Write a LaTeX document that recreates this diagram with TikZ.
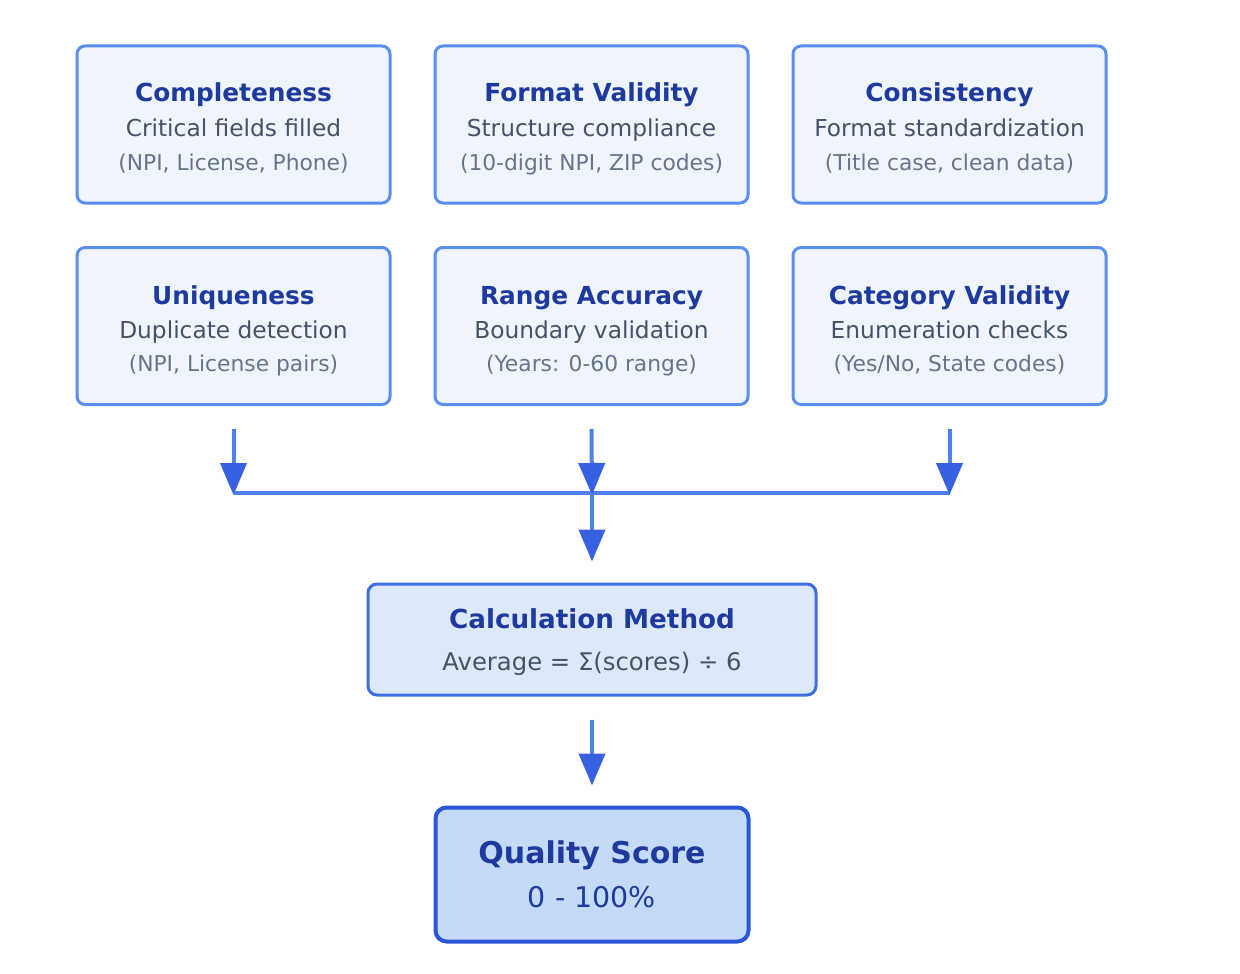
\documentclass[tikz,border=0pt]{standalone}
\usepackage{fontspec}
\setmainfont{DejaVu Sans}
\usetikzlibrary{arrows.meta}
\definecolor{cardfill}{HTML}{EFF4FD}
\definecolor{cardline}{HTML}{5A8EEF}
\definecolor{calcfill}{HTML}{DDE8FB}
\definecolor{calcline}{HTML}{3D6FE3}
\definecolor{qfill}{HTML}{C4DAF7}
\definecolor{qline}{HTML}{2B56D6}
\definecolor{titleblue}{HTML}{1E3A9E}
\definecolor{subgray}{HTML}{465366}
\definecolor{notegray}{HTML}{67758A}
\definecolor{arrline}{HTML}{4D82EE}
\definecolor{arrhead}{HTML}{3860E2}
\tikzset{
  card/.style={draw=cardline, fill=cardfill, line width=3pt, rounded corners=8pt,
    minimum width=313pt, minimum height=157pt, inner sep=0pt},
  calcbox/.style={draw=calcline, fill=calcfill, line width=3pt, rounded corners=9pt,
    minimum width=448pt, minimum height=111pt, inner sep=0pt},
  qbox/.style={draw=qline, fill=qfill, line width=4pt, rounded corners=11pt,
    minimum width=313pt, minimum height=134pt, inner sep=0pt},
  txt/.style={inner sep=0pt, anchor=base},
  ctitle/.style={txt, text=titleblue, font=\fontsize{24.8}{29}\selectfont\bfseries},
  csub/.style={txt, text=subgray, font=\fontsize{23.3}{28}\selectfont},
  cnote/.style={txt, text=notegray, font=\fontsize{21.8}{25}\selectfont},
  arr/.style={draw=arrline, line width=4pt, -{Triangle[width=26pt,length=32pt,color=arrhead]}},
  link/.style={draw=arrline, line width=4pt}
}
\begin{document}
\begin{tikzpicture}[x=1pt,y=-1pt]
\useasboundingbox (0,0) rectangle (1240,974);
% cards row 1
\node[card] (b1) at (233.5,124.5) {};
\node[card] (b2) at (591.5,124.5) {};
\node[card] (b3) at (949.5,124.5) {};
% cards row 2
\node[card] (b4) at (233.5,326) {};
\node[card] (b5) at (591.5,326) {};
\node[card] (b6) at (949.5,326) {};
% texts row 1
\node[ctitle] (t1) at (233.5,102) {Completeness};
\node[csub] (s1) at (233.5,136.5) {Critical fields filled};
\node[cnote] (n1) at (233.5,170) {(NPI, License, Phone)};
\node[ctitle] (t2) at (591.5,102) {Format Validity};
\node[csub] (s2) at (591.5,136.5) {Structure compliance};
\node[cnote] (n2) at (591.5,170) {(10-digit NPI, ZIP codes)};
\node[ctitle] (t3) at (949.5,102) {Consistency};
\node[csub] (s3) at (949.5,136.5) {Format standardization};
\node[cnote] (n3) at (949.5,170) {(Title case, clean data)};
% texts row 2
\node[ctitle] (t4) at (233.5,304) {Uniqueness};
\node[csub] (s4) at (233.5,338) {Duplicate detection};
\node[cnote] (n4) at (233.5,371.5) {(NPI, License pairs)};
\node[ctitle] (t5) at (591.5,304) {Range Accuracy};
\node[csub] (s5) at (591.5,338) {Boundary validation};
\node[cnote] (n5) at (591.5,371.5) {(Years: 0-60 range)};
\node[ctitle] (t6) at (949.5,304) {Category Validity};
\node[csub] (s6) at (949.5,338) {Enumeration checks};
\node[cnote] (n6) at (949.5,371.5) {(Yes/No, State codes)};
% calculation
\node[calcbox] (calc) at (592,639.5) {};
\node[txt, text=titleblue, font=\fontsize{26.2}{31}\selectfont\bfseries] (ct) at (592,628) {Calculation Method};
\node[txt, text=subgray, font=\fontsize{24.3}{29}\selectfont] (cs) at (592,670) {Average = Σ(scores) ÷ 6};
% quality
\node[qbox] (q) at (592,874.5) {};
\node[txt, text=titleblue, font=\fontsize{30}{36}\selectfont\bfseries] (qt) at (592,863) {Quality Score};
\node[txt, text=titleblue, font=\fontsize{28.5}{34}\selectfont] (qs) at (592,907) {0 - 100\%};
% junction
\coordinate (j1) at (233.5,493);
\coordinate (j2) at (592,493);
\coordinate (j3) at (949.5,493);
\draw[link] (j1) -- (j3);
\draw[arr] ([yshift=-23pt]b4.south) -- ([yshift=-2pt]j1);
\draw[arr] ([yshift=-23pt]b5.south) -- ([yshift=-2pt]j2);
\draw[arr] ([yshift=-23pt]b6.south) -- ([yshift=-2pt]j3);
\draw[arr] (j2) -- ([yshift=21pt]calc.north);
\draw[arr] ([yshift=-23pt]calc.south) -- ([yshift=20pt]q.north);
\end{tikzpicture}
\end{document}
